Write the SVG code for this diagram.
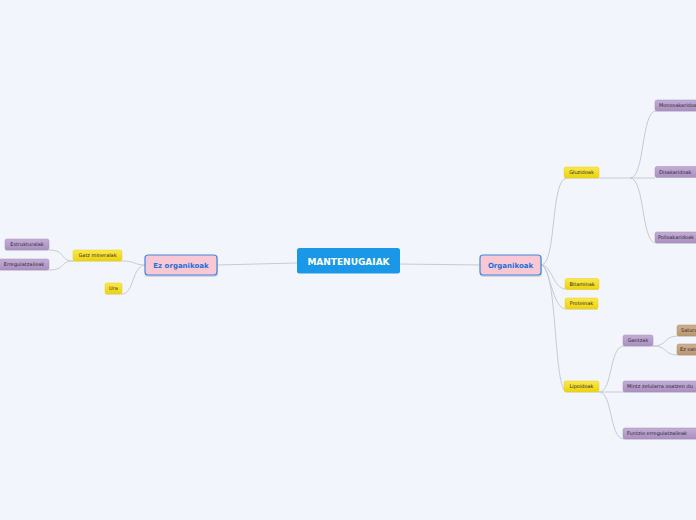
<svg xmlns="http://www.w3.org/2000/svg" width="696" height="520" viewBox="0 0 696 520">
<defs>
<linearGradient id="gy" x1="0" y1="0" x2="0" y2="1"><stop offset="0" stop-color="#fbe94a"/><stop offset="1" stop-color="#ecd20c"/></linearGradient>
<linearGradient id="gp" x1="0" y1="0" x2="0" y2="1"><stop offset="0" stop-color="#c3aed6"/><stop offset="1" stop-color="#a98fc0"/></linearGradient>
<linearGradient id="gb" x1="0" y1="0" x2="0" y2="1"><stop offset="0" stop-color="#cfb08f"/><stop offset="1" stop-color="#b8966f"/></linearGradient>
</defs>
<style>
.c{fill:none;stroke:#c9c9d2;stroke-width:1}
.y{fill:url(#gy);stroke:#e6cf2a;stroke-width:0.5}
.p{fill:url(#gp);stroke:#a48cba;stroke-width:0.5}
.b{fill:url(#gb);stroke:#ad8c68;stroke-width:0.5}
.sh{fill:#9aa0b0;opacity:0.35}
.t{font-family:"DejaVu Sans",Verdana,sans-serif;font-size:5px;fill:#2e2a33}
.m{fill:#fac8d5;stroke:#3d86e2;stroke-width:1.2}
.mt{font-family:"DejaVu Sans",Verdana,sans-serif;font-size:7px;font-weight:bold;fill:#1f6fd6}
</style>
<rect width="696" height="520" fill="#f3f5fd"/>
<g id="connectors">
<path class="c" d="M400,264 L480,265"/>
<path class="c" d="M297,263 L217,265"/>
<path class="c" d="M541,265 C557,265 550,178 567,178 L599,178"/>
<path class="c" d="M541,265 C552,265 553,289 566,289 L599,289"/>
<path class="c" d="M541,265 C550,266 552,309 566,309 L598,309"/>
<path class="c" d="M541,265 C558,266 553,392 567,392 L599,392"/>
<path class="c" d="M599,178 L655,178"/>
<path class="c" d="M630,178 C645,178 641,111 656,111 L696,111"/>
<path class="c" d="M630,178 C645,178 641,243 656,243 L696,243"/>
<path class="c" d="M599,392 L623,392 L696,392"/>
<path class="c" d="M599,392 C613,392 609,346 624,346 L653,346"/>
<path class="c" d="M599,392 C613,392 609,439 624,439 L696,439"/>
<path class="c" d="M653,346 C668,346 663,336 678,336 L696,336"/>
<path class="c" d="M653,346 C668,346 663,355 678,355 L696,355"/>
<path class="c" d="M145,265 C134,265 136,261 122,261 L73,261"/>
<path class="c" d="M145,265 C132,266 134,294 122,294 L105,294"/>
<path class="c" d="M73,261 C60,261 66,250 49,250 L5,250"/>
<path class="c" d="M73,261 C60,261 66,270 49,270 L0,270"/>
</g>
<g id="n-mantenugaiak">
<rect x="297" y="248" width="103" height="25.5" rx="2.5" fill="#1a97e6"/>
<text x="348.5" y="264.5" text-anchor="middle" font-family="DejaVu Sans,Verdana,sans-serif" font-size="9" font-weight="bold" fill="#ffffff">MANTENUGAIAK</text>
</g>
<g id="n-organikoak">
<rect class="sh" x="480" y="256" width="62" height="21" rx="3"/>
<rect class="m" x="480" y="255" width="61" height="20" rx="3"/>
<text class="mt" x="510.5" y="267.5" text-anchor="middle">Organikoak</text>
</g>
<g id="n-ezorganikoak">
<rect class="sh" x="145" y="256" width="73" height="21" rx="3"/>
<rect class="m" x="145" y="255" width="72" height="20" rx="3"/>
<text class="mt" x="181" y="267.5" text-anchor="middle">Ez organikoak</text>
</g>
<g id="n-gluzidoak"><rect class="y" x="564" y="167" width="35" height="11" rx="2"/><text class="t" x="581.5" y="174.3" text-anchor="middle">Gluzidoak</text></g>
<g id="n-bitaminak"><rect class="y" x="565" y="278.5" width="34" height="11" rx="2"/><text class="t" x="582" y="285.8" text-anchor="middle">Bitaminak</text></g>
<g id="n-proteinak"><rect class="y" x="565" y="298" width="33" height="11" rx="2"/><text class="t" x="581.5" y="305.3" text-anchor="middle">Proteinak</text></g>
<g id="n-lipoidoak"><rect class="y" x="564" y="381" width="35" height="11" rx="2"/><text class="t" x="581.5" y="388.3" text-anchor="middle">Lipoidoak</text></g>
<g id="n-gatz"><rect class="y" x="73" y="250" width="49" height="11" rx="2"/><text class="t" x="97.5" y="257.3" text-anchor="middle">Gatz mineralak</text></g>
<g id="n-ura"><rect class="y" x="105" y="283" width="17" height="11" rx="2"/><text class="t" x="113.5" y="290.3" text-anchor="middle">Ura</text></g>
<g id="n-monosakaridoak"><rect class="p" x="655" y="100" width="50" height="11" rx="2"/><text class="t" x="659" y="107.3">Monosakaridoak</text></g>
<g id="n-disakaridoak"><rect class="p" x="655" y="166.5" width="50" height="11" rx="2"/><text class="t" x="659" y="173.8">Disakaridoak</text></g>
<g id="n-polisakaridoak"><rect class="p" x="655" y="232" width="50" height="11" rx="2"/><text class="t" x="658" y="239.3">Polisakaridoak</text></g>
<g id="n-gantzak"><rect class="p" x="623" y="335" width="30" height="11" rx="2"/><text class="t" x="638" y="342.3" text-anchor="middle">Gantzak</text></g>
<g id="n-mintz"><rect class="p" x="623" y="381" width="80" height="11" rx="2"/><text class="t" x="627" y="388.3">Mintz zelularra osatzen du</text></g>
<g id="n-funtzio"><rect class="p" x="623" y="428" width="75" height="11" rx="2"/><text class="t" x="627" y="435.3">Funtzio erregulatzaileak</text></g>
<g id="n-saturatuak"><rect class="b" x="677" y="325" width="30" height="11" rx="2"/><text class="t" x="681" y="332.3">Saturatuak</text></g>
<g id="n-ezsaturatuak"><rect class="b" x="677" y="344" width="40" height="11" rx="2"/><text class="t" x="680" y="351.3">Ez saturatuak</text></g>
<g id="n-estrukturalak"><rect class="p" x="5" y="239" width="44" height="11" rx="2"/><text class="t" x="27" y="246.3" text-anchor="middle">Estrukturalak</text></g>
<g id="n-erregulatzaileak"><rect class="p" x="-4" y="259" width="53" height="11" rx="2"/><text class="t" x="24" y="266.3" text-anchor="middle">Erregulatzaileak</text></g>
</svg>
